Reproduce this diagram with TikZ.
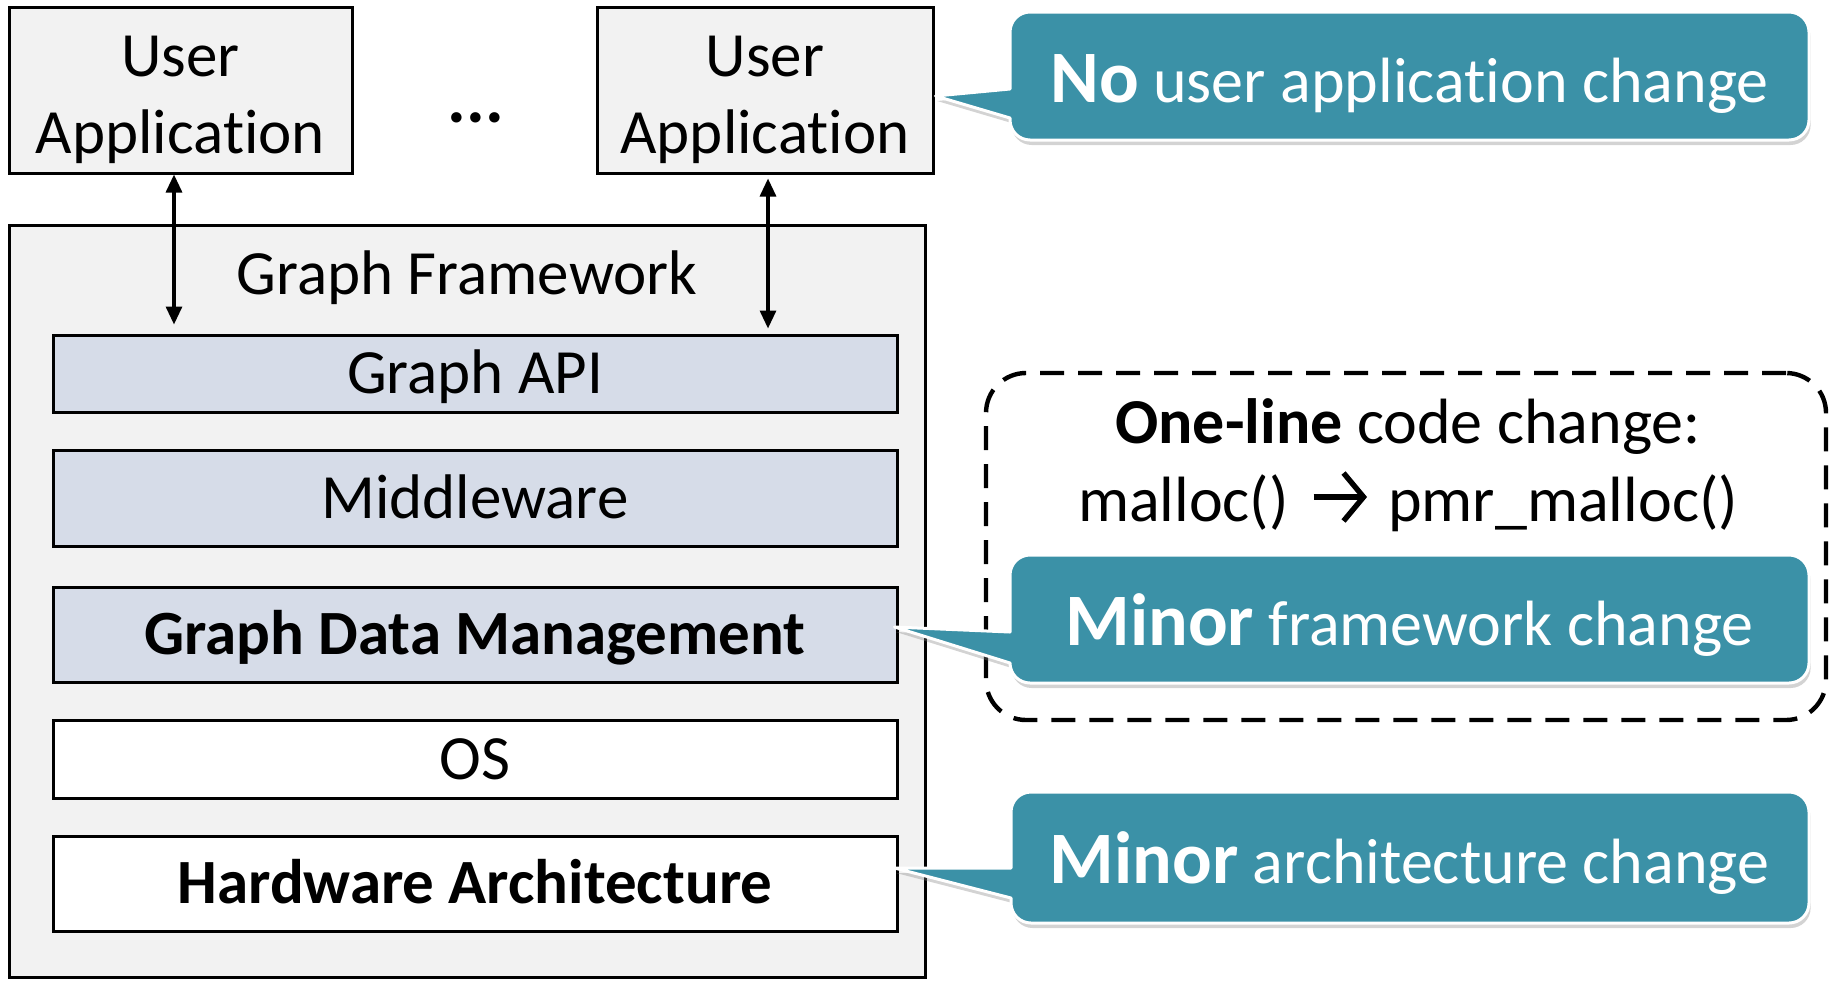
\documentclass[tikz,border=0pt]{standalone}
\usepackage{fontspec}
\setmainfont{Carlito}[Ligatures={NoCommon}]
\usetikzlibrary{arrows.meta,shadows,calc}
\definecolor{panelgrey}{RGB}{242,242,242}
\definecolor{layerblue}{RGB}{214,220,232}
\definecolor{calloutteal}{RGB}{59,145,167}
\newcommand\bodyfont{\fontsize{31.5}{38.5}\selectfont}
\newcommand\notefont{\fontsize{32}{38}\selectfont}
\newcommand\keyfont{\fontsize{37}{40}\selectfont\bfseries}
% bold chevron arrow used inside the code-change line
\newcommand\boldarrow{\tikz[baseline=0pt,line width=2.7pt,line cap=butt,line join=miter]{%
  \draw (0pt,12pt) -- (24pt,12pt);
  \draw (15pt,24pt) -- (25pt,12pt) -- (15pt,0pt);}}
% speech-bubble outline: left, top, right, bottom, tip, tail top y, tail bottom y
\newcommand\calloutpath[7]{%
  \path[callout] (#5) -- (#1,#6) -- (#1,{#2+20}) arc[start angle=180,end angle=270,radius=20]
   -- ({#3-20},#2) arc[start angle=270,end angle=360,radius=20]
   -- (#3,{#4-20}) arc[start angle=0,end angle=90,radius=20]
   -- ({#1+20},#4) arc[start angle=90,end angle=180,radius=20]
   -- (#1,#7) -- cycle;}
\begin{document}
\begin{tikzpicture}[x=0.5pt,y=-0.5pt,
  box/.style={draw=black,line width=1.5pt,inner sep=0pt,font=\bodyfont},
  appbox/.style={box,fill=panelgrey,align=center,minimum height=83pt,text height=63pt,text depth=0pt},
  layer/.style={box,fill=layerblue,minimum width=422pt,text height=20pt,text depth=0pt},
  hwlayer/.style={layer,fill=white},
  biarrow/.style={line width=1.6pt,{Triangle[length=9pt,width=8pt]}-{Triangle[length=9pt,width=8pt]}},
  callout/.style={fill=calloutteal,draw=white,line width=1.5pt,line join=round,
    drop shadow={shadow xshift=0.8pt,shadow yshift=-2.5pt,opacity=0.35}},
  calltext/.style={text=white,font=\notefont,inner sep=0pt,text height=26pt,text depth=0pt},
  note/.style={font=\notefont,inner sep=0pt,anchor=base},
  changebox/.style={draw=black,line width=2.2pt,dash pattern=on 12pt off 7pt,rounded corners=20pt,
    inner sep=0pt,minimum width=420pt,minimum height=173.5pt}
]
\useasboundingbox (0,0) rectangle (1829,980);

% framework panel and its layers
\node[box,fill=panelgrey,minimum width=458pt,minimum height=376pt] (fw) at (467,601) {};
\node[font=\bodyfont,anchor=base,inner sep=0pt] (fwtitle) at (467,294) {Graph Framework};
\node[layer,minimum height=38.5pt] (api) at (475,373.5) {Graph API};
\node[layer,minimum height=48pt] (mw) at (475,498) {Middleware};
\node[layer,minimum height=47.5pt,font=\bodyfont\bfseries] (gdm) at (475,634.5) {Graph Data Management};
\node[hwlayer,minimum height=39pt] (os) at (475,759) {OS};
\node[hwlayer,minimum height=47.5pt,font=\bodyfont\bfseries] (hw) at (475,883.5) {Hardware Architecture};

% applications on top
\node[appbox,minimum width=171.5pt] (ua1) at (180.5,90) {User\\Application};
\node[appbox,minimum width=168pt] (ua2) at (765,90) {User\\Application};
\node[font=\fontsize{35}{40}\selectfont\bfseries,anchor=base,inner sep=0pt] (dots) at (476,122) {...};

\coordinate (lx) at (174,0);
\coordinate (rx) at (768,0);
\draw[biarrow,shorten >=4.5pt] (ua1.south -| lx) -- (api.north -| lx);
\draw[biarrow,shorten <=2pt,shorten >=2.5pt] (ua2.south -| rx) -- (api.north -| rx);

% code change note
\node[changebox] (chg) at (1406,546.5) {};
\node[note] (chg1) at (1408,443) {\textbf{One-line} code change:};
\node[note] (chg2) at (1408,521) {malloc()\hspace{11pt}\boldarrow\hspace{11pt}pmr\_malloc()};

% callouts
\coordinate (t1) at ($(ua2.east)+(1,6)$);
\calloutpath{1010}{12}{1809}{140}{t1}{89}{118}
\node[calltext] (c1) at (1409.5,76) {{\keyfont No} user application change};

\coordinate (t2) at ($(gdm.east)+(-4,-7.5)$);
\calloutpath{1010}{555}{1809}{683}{t2}{632}{663}
\node[calltext] (c2) at (1409.5,619) {{\keyfont Minor} framework change};

\coordinate (t3) at ($(hw.east)+(-4,-15.5)$);
\calloutpath{1011}{792}{1809}{923}{t3}{868}{898}
\node[calltext] (c3) at (1409.5,857.5) {{\keyfont Minor} architecture change};
\end{tikzpicture}
\end{document}
